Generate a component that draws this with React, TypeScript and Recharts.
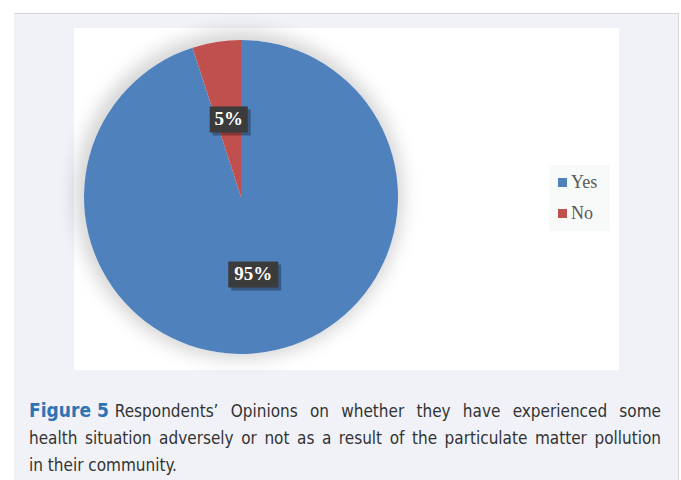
import { PieChart, Pie, Cell, Legend } from 'recharts';

const categories = ['Yes', 'No'];
const shares = [95, 5];
const colors = ['#4f81bd', '#c0504d'];

const data = categories.map((name, i) => ({ name, value: shares[i] }));

const captionLines = [
  'Respondents’ Opinions on whether they have experienced some',
  'health situation adversely or not as a result of the particulate matter pollution',
  'in their community.',
];

const RAD = Math.PI / 180;

// Etiqueta em caixa escura, no meio do raio
const renderLabel = (props: any) => {
  const { cx, cy, midAngle, outerRadius, value } = props;
  const r = outerRadius * 0.5;
  const x = cx + r * Math.cos(-midAngle * RAD);
  const y = cy + r * Math.sin(-midAngle * RAD);
  const text = `${value}%`;
  const w = text.length * 12 + 14;
  const h = 26;
  return (
    <g>
      <rect x={x - w / 2 + 3} y={y - h / 2 + 3} width={w} height={h} fill="rgba(0,0,0,0.3)" />
      <rect x={x - w / 2} y={y - h / 2} width={w} height={h} fill="#3b3b3b" />
      <text
        x={x}
        y={y + 1}
        fill="#ffffff"
        textAnchor="middle"
        dominantBaseline="middle"
        fontFamily="'Liberation Serif', serif"
        fontWeight="bold"
        fontSize={19}
      >
        {text}
      </text>
    </g>
  );
};

const renderLegend = () => (
  <div style={{ background: '#f8f9f9', width: 61, height: 66, paddingTop: 2, boxSizing: 'border-box' }}>
    {data.map((d, i) => (
      <div key={d.name} style={{ display: 'flex', alignItems: 'center', height: 31, paddingLeft: 9 }}>
        <span style={{ width: 9, height: 9, background: colors[i], marginRight: 4 }} />
        <span style={{ fontFamily: "'Liberation Serif', serif", fontSize: 18, color: '#595959' }}>{d.name}</span>
      </div>
    ))}
  </div>
);

export default function App() {
  return (
    <div style={{ position: 'absolute', left: 0, top: 0, width: 681, height: 480, background: '#ffffff', overflow: 'hidden' }}>
      <div
        style={{
          position: 'absolute',
          left: 14,
          top: 13,
          width: 664,
          height: 480,
          background: '#f1f2f7',
          borderTop: '1px solid #d6d6d6',
          borderRight: '1px solid #d6d6d6',
        }}
      />
      <div style={{ position: 'absolute', left: 74, top: 28, width: 545, height: 342, background: '#ffffff' }}>
        <div
          style={{
            position: 'absolute',
            left: 167 - 157,
            top: 169 - 157,
            width: 314,
            height: 314,
            borderRadius: '50%',
            boxShadow: '-2px -2px 18px 7px rgba(0,0,0,0.17)',
          }}
        />
        <div style={{ position: 'absolute', left: 0, top: 0 }}>
          <PieChart width={545} height={342} margin={{ top: 0, right: 0, bottom: 0, left: 0 }}>
            <Pie
              data={data}
              dataKey="value"
              nameKey="name"
              cx={167}
              cy={169}
              outerRadius={157}
              startAngle={90}
              endAngle={-270}
              stroke="none"
              label={renderLabel}
              labelLine={false}
              isAnimationActive={false}
            >
              {data.map((d, i) => (
                <Cell key={d.name} fill={colors[i]} />
              ))}
            </Pie>
            <Legend
              content={renderLegend}
              wrapperStyle={{ position: 'absolute', left: 475, top: 137, width: 61 }}
            />
          </PieChart>
        </div>
      </div>
      <div
        style={{
          position: 'absolute',
          left: 29,
          top: 397,
          width: 632,
          fontFamily: "'DejaVu Sans Condensed', 'Liberation Sans Narrow', sans-serif",
          fontSize: 17,
          lineHeight: '27px',
          color: '#333333',
        }}
      >
        {captionLines.map((line, i) => (
          <div
            key={i}
            style={{
              textAlign: i < captionLines.length - 1 ? 'justify' : 'left',
              textAlignLast: i < captionLines.length - 1 ? 'justify' : 'left',
            }}
          >
            {i === 0 && (
              <span
                style={{
                  display: 'inline-block',
                  color: '#2e74b5',
                  fontWeight: 'bold',
                  fontSize: 19,
                  marginRight: 6,
                  whiteSpace: 'pre',
                }}
              >
                Figure 5
              </span>
            )}
            {line}
          </div>
        ))}
      </div>
    </div>
  );
}
